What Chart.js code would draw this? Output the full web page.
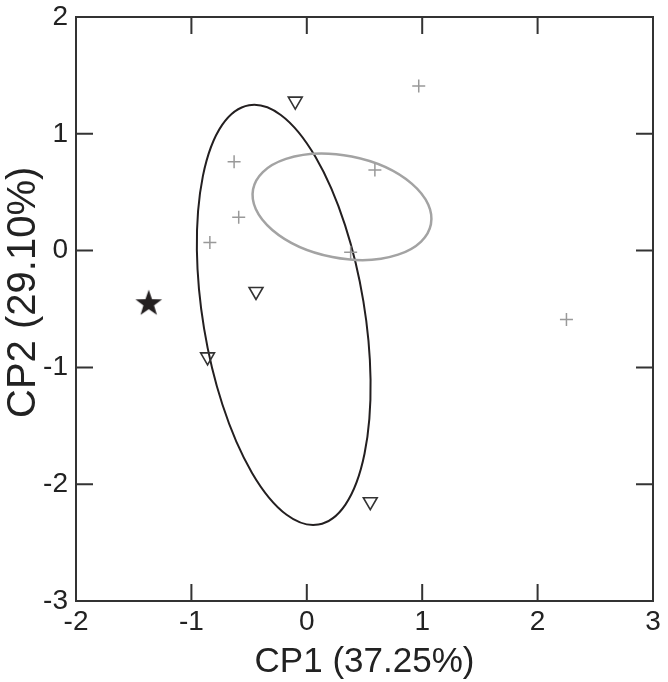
<!DOCTYPE html>
<html>
<head>
<meta charset="utf-8">
<script src="https://cdn.jsdelivr.net/npm/chart.js@4.4.1/dist/chart.umd.min.js"></script>
<style>
  body { margin: 0; background: #fff; }
  #wrap { width: 668px; height: 682px; }
</style>
</head>
<body>
<div id="wrap"><canvas id="pca"></canvas></div>
<script>
// group 1 (grey crosses)
const crossX = [0.97, 0.59, -0.63, -0.59, -0.84, 0.38, 2.25];
const crossY = [1.41, 0.69, 0.76, 0.285, 0.07, -0.015, -0.59];
// group 2 (open triangles)
const triX = [-0.10, -0.44, -0.86, 0.55];
const triY = [1.28, -0.35, -0.91, -2.15];
// reference sample (star)
const starX = [-1.37];
const starY = [-0.45];

// confidence ellipses: [black, grey]
const ellipseCx = [-0.2, 0.305];
const ellipseCy = [-0.55, 0.375];
const ellipseA = [1.82, 0.785];
const ellipseB = [0.70, 0.438];
const ellipseAngle = [-80.5, -11];

const xTicks = [-2, -1, 0, 1, 2, 3];
const yTicks = [-3, -2, -1, 0, 1, 2];

const FONT = "'Liberation Sans', Arial, sans-serif";

// filled star used as point style
function makeStar() {
  const c = document.createElement('canvas');
  c.width = 30; c.height = 30;
  const g = c.getContext('2d');
  g.fillStyle = '#231f20';
  g.beginPath();
  for (let i = 0; i < 10; i++) {
    const r = i % 2 === 0 ? 14 : 5.6;
    const ang = -Math.PI / 2 + i * Math.PI / 5;
    const px = 15 + r * Math.cos(ang);
    const py = 15.5 + r * Math.sin(ang);
    if (i === 0) g.moveTo(px, py); else g.lineTo(px, py);
  }
  g.closePath();
  g.fill();
  return c;
}

const ellipsePlugin = {
  id: 'ellipses',
  beforeDatasetsDraw(chart) {
    const ctx = chart.ctx;
    const xs = chart.scales.x, ys = chart.scales.y;
    const kx = xs.getPixelForValue(1) - xs.getPixelForValue(0);
    const ky = ys.getPixelForValue(0) - ys.getPixelForValue(1);
    const colors = ['#231f20', '#a3a3a3'];
    const widths = [2, 2.5];
    for (let i = 0; i < ellipseCx.length; i++) {
      ctx.save();
      ctx.translate(xs.getPixelForValue(ellipseCx[i]), ys.getPixelForValue(ellipseCy[i]));
      ctx.scale(kx, -ky);
      ctx.rotate(ellipseAngle[i] * Math.PI / 180);
      ctx.beginPath();
      ctx.ellipse(0, 0, ellipseA[i], ellipseB[i], 0, 0, Math.PI * 2);
      ctx.restore();
      ctx.save();
      ctx.strokeStyle = colors[i];
      ctx.lineWidth = widths[i];
      ctx.stroke();
      ctx.restore();
    }
  }
};

// box around the plot with inward ticks on all four sides
const framePlugin = {
  id: 'frame',
  afterDraw(chart) {
    const ctx = chart.ctx;
    const a = chart.chartArea;
    const xs = chart.scales.x, ys = chart.scales.y;
    const len = 17;
    ctx.save();
    ctx.strokeStyle = '#333';
    ctx.lineWidth = 2;
    ctx.strokeRect(a.left, a.top, a.right - a.left, a.bottom - a.top);
    ctx.beginPath();
    xTicks.forEach(v => {
      const px = xs.getPixelForValue(v);
      ctx.moveTo(px, a.bottom); ctx.lineTo(px, a.bottom - len);
      ctx.moveTo(px, a.top); ctx.lineTo(px, a.top + len);
    });
    yTicks.forEach(v => {
      const py = ys.getPixelForValue(v);
      ctx.moveTo(a.left, py); ctx.lineTo(a.left + len, py);
      ctx.moveTo(a.right, py); ctx.lineTo(a.right - len, py);
    });
    ctx.stroke();
    ctx.restore();
  }
};

const ctx = document.getElementById('pca');
new Chart(ctx, {
  type: 'scatter',
  data: {
    datasets: [
      {
        label: 'group 1',
        data: crossX.map((x, i) => ({ x: x, y: crossY[i] })),
        pointStyle: 'cross',
        pointRadius: 6.5,
        borderColor: '#999',
        borderWidth: 1.5
      },
      {
        label: 'group 2',
        data: triX.map((x, i) => ({ x: x, y: triY[i] })),
        pointStyle: 'triangle',
        rotation: 180,
        pointRadius: 8,
        borderColor: '#333',
        backgroundColor: 'rgba(255,255,255,0)',
        borderWidth: 1.6
      },
      {
        label: 'reference',
        data: starX.map((x, i) => ({ x: x, y: starY[i] })),
        pointStyle: makeStar(),
        pointRadius: 14
      }
    ]
  },
  options: {
    responsive: true,
    maintainAspectRatio: false,
    animation: false,
    layout: { padding: { top: 17, right: 11, left: 0, bottom: 0 } },
    plugins: { legend: { display: false }, tooltip: { enabled: false } },
    scales: {
      x: {
        type: 'linear',
        min: -2, max: 3,
        afterFit: s => { s.height = 81; s.paddingLeft = 0; s.paddingRight = 0; },
        grid: { display: false, drawTicks: false },
        border: { display: false },
        ticks: { stepSize: 1, padding: 4, color: '#222', font: { family: FONT, size: 28 } },
        title: { display: true, text: 'CP1 (37.25%)', color: '#222', padding: { top: 0, bottom: 2 }, font: { family: FONT, size: 35, lineHeight: 1 } }
      },
      y: {
        type: 'linear',
        min: -3, max: 2,
        afterFit: s => { s.width = 76; s.paddingTop = 0; s.paddingBottom = 0; },
        grid: { display: false, drawTicks: false },
        border: { display: false },
        ticks: { stepSize: 1, padding: 8, color: '#222', font: { family: FONT, size: 28 } },
        // leading no-break spaces nudge the label up a little, as in the source figure
        title: { display: true, text: '\u00a0\u00a0\u00a0CP2 (29.10%)', color: '#222', padding: { top: 4, bottom: 0 }, font: { family: FONT, size: 40, lineHeight: 1 } }
      }
    }
  },
  plugins: [ellipsePlugin, framePlugin]
});
</script>
</body>
</html>
